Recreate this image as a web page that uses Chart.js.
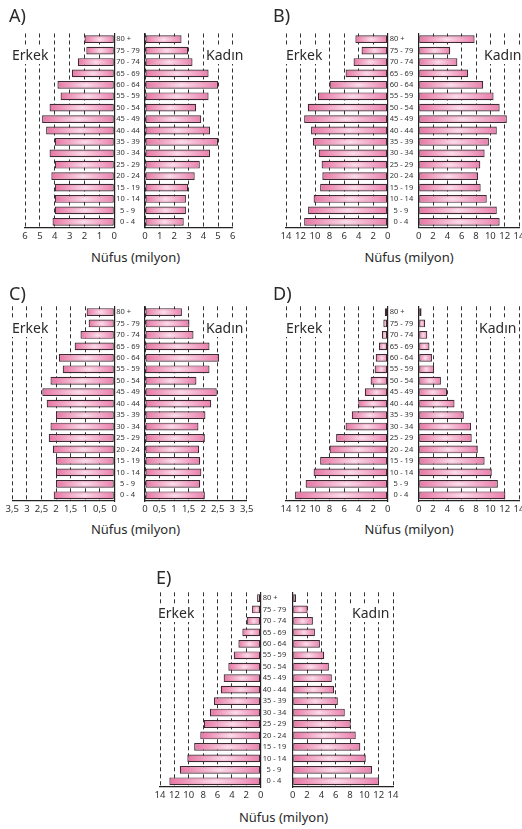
<!DOCTYPE html>
<html>
<head>
<meta charset="utf-8">
<script src="https://cdn.jsdelivr.net/npm/chart.js@4"></script>
<style>
  html, body { margin: 0; padding: 0; background: #fff; }
  body { width: 522px; height: 829px; overflow: hidden; position: relative;
         font-family: "Noto Sans", sans-serif; color: #2a2a2a; }
  canvas { position: absolute; }
  .t { position: absolute; white-space: nowrap; z-index: 2; }
  .letter { font-size: 18px; line-height: 24px; }
  .side { font-size: 14px; line-height: 18px; background: #fff; padding: 0 2px; }
  .axis { font-size: 13px; line-height: 18px; transform: translateX(-50%); }
</style>
</head>
<body>
<script>
// age groups, top of the pyramid first
const ageGroups = ['80 +', '75 - 79', '70 - 74', '65 - 69', '60 - 64', '55 - 59', '50 - 54',
  '45 - 49', '40 - 44', '35 - 39', '30 - 34', '25 - 29', '20 - 24', '15 - 19', '10 - 14',
  '\u20025 - 9', '\u20020 - 4'];

// population in millions, same order as ageGroups
const maleA = [2.0, 1.88, 2.45, 2.85, 3.82, 3.61, 4.35, 4.85, 4.58, 4.0, 4.35, 4.0, 4.23, 4.0, 4.0, 4.0, 4.15];
const femaleA = [2.5, 2.95, 3.25, 4.35, 5.0, 4.35, 3.5, 3.85, 4.45, 5.0, 4.45, 3.75, 3.4, 2.95, 2.8, 2.8, 2.65];
const maleB = [4.45, 3.6, 4.7, 5.8, 8.0, 9.6, 11.0, 11.5, 10.55, 10.3, 9.5, 9.1, 9.0, 9.3, 10.2, 10.96, 11.5];
const femaleB = [7.8, 4.4, 5.4, 6.9, 9.0, 10.45, 11.3, 12.3, 10.9, 9.8, 9.2, 8.6, 8.3, 8.65, 9.5, 10.9, 11.3];
const maleC = [0.95, 0.88, 1.16, 1.36, 1.9, 1.77, 2.19, 2.47, 2.32, 2.0, 2.19, 2.25, 2.11, 2.0, 2.0, 2.0, 2.08];
const femaleC = [1.27, 1.53, 1.67, 2.22, 2.55, 2.22, 1.77, 2.47, 2.28, 2.08, 1.84, 2.06, 1.86, 1.9, 1.94, 1.9, 2.06];
const maleD = [0.4, 0.6, 0.8, 1.2, 1.65, 1.8, 2.35, 3.15, 4.05, 4.95, 5.8, 7.1, 8.0, 9.3, 10.2, 11.3, 12.75];
const femaleD = [0.4, 0.9, 1.2, 1.5, 1.85, 2.15, 3.1, 3.95, 5.0, 6.3, 7.3, 7.4, 8.25, 9.2, 10.2, 11.05, 12.1];
const maleE = [0.5, 1.2, 1.95, 2.55, 3.1, 3.75, 4.5, 5.15, 5.55, 6.5, 7.05, 7.9, 8.4, 9.25, 10.2, 11.25, 12.7];
const femaleE = [0.46, 2.08, 2.82, 3.1, 3.8, 4.4, 5.05, 5.46, 5.79, 6.3, 7.27, 8.1, 8.8, 9.44, 10.2, 11.07, 12.04];

// axis ranges
const axisMax = { A: 6, B: 14, C: 3.5, D: 14, E: 14 };
const axisStep = { A: 1, B: 2, C: 0.5, D: 2, E: 2 };

const panelLetters = ['A)', 'B)', 'C)', 'D)', 'E)'];
const maleLabel = 'Erkek';
const femaleLabel = 'Kadın';
const axisTitle = 'Nüfus (milyon)';

// page layout of each pyramid (pixels)
const panels = [
  { key: 'A', male: maleA, female: femaleA, xL: 25, z1: 114.3, z2: 145, xR: 232.7, top: 33.5, bottom: 227.5,
    letter: [9, 15], erkek: [10, 55], kadin: [204, 55], title: [135.5, 257] },
  { key: 'B', male: maleB, female: femaleB, xL: 286, z1: 387.7, z2: 418.7, xR: 519, top: 33.5, bottom: 227.5,
    letter: [273, 15], erkek: [284, 55], kadin: [482, 55], title: [409, 257] },
  { key: 'C', male: maleC, female: femaleC, xL: 12.3, z1: 114.3, z2: 145, xR: 246.7, top: 306.3, bottom: 501,
    letter: [9, 293], erkek: [10, 328], kadin: [204, 328], title: [135.5, 529] },
  { key: 'D', male: maleD, female: femaleD, xL: 286, z1: 387.7, z2: 418.7, xR: 519, top: 306.3, bottom: 501,
    letter: [273, 293], erkek: [284, 328], kadin: [477, 328], title: [409, 529] },
  { key: 'E', male: maleE, female: femaleE, xL: 160, z1: 260.7, z2: 292.7, xR: 393, top: 592.3, bottom: 787,
    letter: [156, 577], erkek: [156, 613], kadin: [350, 613], title: [283.5, 817] },
];

const BAR_PCT = 0.68;

Chart.defaults.font.family = '"Noto Sans", sans-serif';

// pink bar with a soft light streak in the middle
function glowPattern(target, x, y, w, h) {
  const c = document.createElement('canvas');
  c.width = Math.max(2, Math.round(w));
  c.height = Math.max(2, Math.round(h));
  const g = c.getContext('2d');
  const hg = g.createLinearGradient(0, 0, c.width, 0);
  hg.addColorStop(0, '#e2568f');
  hg.addColorStop(0.5, '#fbdbe8');
  hg.addColorStop(1, '#e6649c');
  g.fillStyle = hg;
  g.fillRect(0, 0, c.width, c.height);
  const vg = g.createLinearGradient(0, 0, 0, c.height);
  vg.addColorStop(0, 'rgba(226,86,143,0.6)');
  vg.addColorStop(0.5, 'rgba(255,255,255,0.15)');
  vg.addColorStop(1, 'rgba(226,86,143,0.6)');
  g.fillStyle = vg;
  g.fillRect(0, 0, c.width, c.height);
  const p = target.createPattern(c, 'repeat');
  p.setTransform(new DOMMatrix([1, 0, 0, 1, x, y]));
  return p;
}

function barFill(ctx) {
  const chart = ctx.chart;
  const xs = chart.scales.x;
  const ys = chart.scales.y;
  if (ctx.type !== 'data' || !chart.chartArea || !xs || !ys) return '#ec7eab';
  const a = xs.getPixelForValue(0);
  const b = xs.getPixelForValue(ctx.raw);
  const band = Math.abs(ys.getPixelForValue(1) - ys.getPixelForValue(0));
  const h = band * BAR_PCT;
  const yc = ys.getPixelForValue(ctx.dataIndex);
  return glowPattern(chart.ctx, Math.min(a, b), yc - h / 2, Math.abs(b - a), h);
}

function half(p, male) {
  let left, width, padL, padR, yWidth;
  if (male) {
    left = Math.floor(p.xL - 12);
    width = Math.ceil(p.z2 - left);
    padL = p.xL - left;
    padR = 0;
    yWidth = left + width - p.z1;
  } else {
    left = Math.floor(p.z2 - 8);
    width = Math.ceil(p.xR + 14 - left);
    padL = 0;
    padR = left + width - p.xR;
    yWidth = p.z2 - left;
  }
  const xH = 16;
  const top = Math.floor(p.top - 8);
  const height = Math.ceil(p.bottom - top + xH + 2);
  const padT = p.top - top;
  const padB = height - (p.bottom - top) - xH;

  const canvas = document.createElement('canvas');
  canvas.width = width;
  canvas.height = height;
  canvas.style.left = left + 'px';
  canvas.style.top = top + 'px';
  canvas.style.width = width + 'px';
  canvas.style.height = height + 'px';
  document.body.appendChild(canvas);

  return new Chart(canvas, {
    type: 'bar',
    data: {
      labels: ageGroups,
      datasets: [{
        data: male ? p.male : p.female,
        backgroundColor: barFill,
        borderColor: '#3d2a33',
        borderWidth: 1.2,
        borderSkipped: false,
        barPercentage: BAR_PCT,
        categoryPercentage: 1,
      }],
    },
    options: {
      indexAxis: 'y',
      responsive: false,
      animation: false,
      events: [],
      layout: { padding: { left: padL, right: padR, top: padT, bottom: padB } },
      plugins: { legend: { display: false }, tooltip: { enabled: false } },
      scales: {
        x: {
          type: 'linear',
          reverse: male,
          min: 0,
          max: axisMax[p.key],
          ticks: {
            stepSize: axisStep[p.key],
            autoSkip: false,
            maxRotation: 0,
            padding: 3,
            color: '#333',
            font: { size: 9.5 },
            callback: (v) => String(v).replace('.', ','),
          },
          grid: { color: '#333', lineWidth: 1, drawTicks: false },
          border: { display: true, color: '#222', width: 1.2, dash: [4, 3] },
          afterFit: (s) => { s.height = xH; },
        },
        y: {
          position: male ? 'right' : 'left',
          grid: { display: false, drawTicks: false },
          border: { display: true, color: '#222', width: 1.2 },
          ticks: {
            display: male,
            autoSkip: false,
            padding: 2,
            crossAlign: 'near',
            color: '#333',
            font: { size: 7.5 },
          },
          afterFit: (s) => { s.width = yWidth; },
        },
      },
    },
  });
}

function text(str, cls, x, yc, lh) {
  const d = document.createElement('div');
  d.className = 't ' + cls;
  d.textContent = str;
  d.style.left = x + 'px';
  d.style.top = (yc - lh / 2) + 'px';
  document.body.appendChild(d);
}

panels.forEach((p, i) => {
  half(p, true);
  half(p, false);
  text(panelLetters[i], 'letter', p.letter[0], p.letter[1], 24);
  text(maleLabel, 'side', p.erkek[0], p.erkek[1], 18);
  text(femaleLabel, 'side', p.kadin[0], p.kadin[1], 18);
  text(axisTitle, 'axis', p.title[0], p.title[1], 18);
});
</script>
</body>
</html>
